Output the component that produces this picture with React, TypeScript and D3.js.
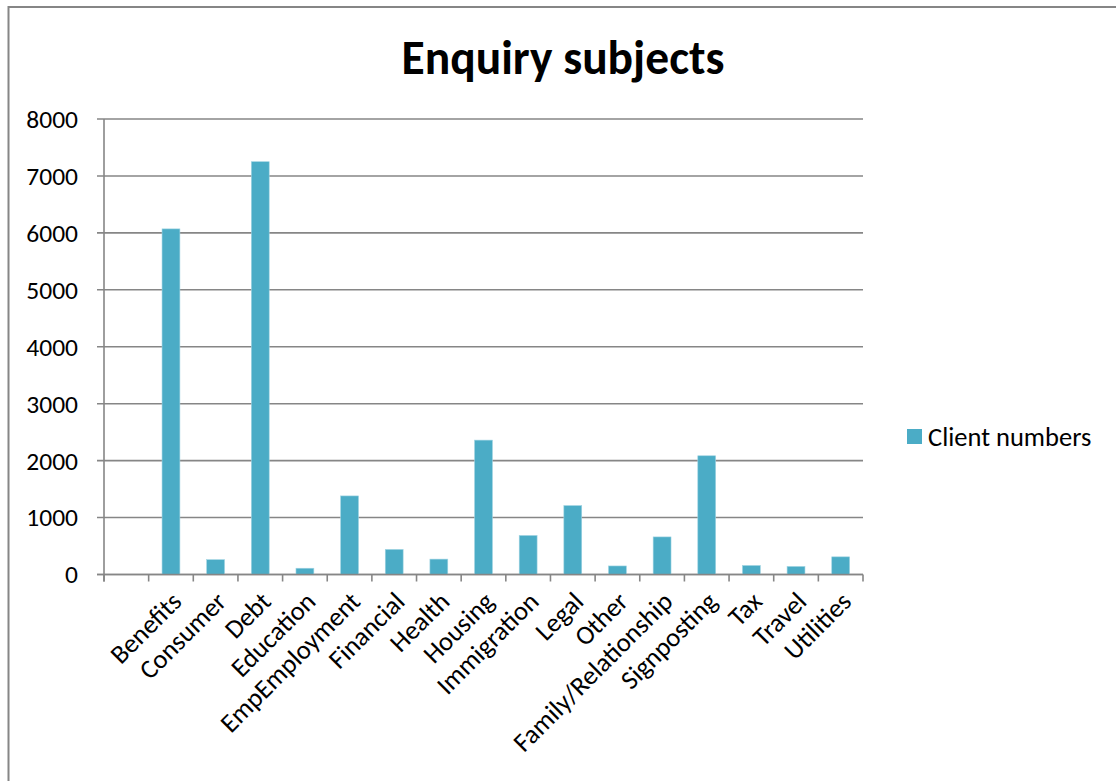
import React from "react";
import * as d3 from "d3";

// Enquiry subjects by client numbers (first category slot is left blank)
const categories = [
  "",
  "Benefits",
  "Consumer",
  "Debt",
  "Education",
  "EmpEmployment",
  "Financial",
  "Health",
  "Housing",
  "Immigration",
  "Legal",
  "Other",
  "Family/Relationship",
  "Signposting",
  "Tax",
  "Travel",
  "Utilities",
];
const clientNumbers: (number | null)[] = [
  null, 6070, 260, 7250, 110, 1380, 440, 270, 2360, 685, 1210, 150, 660, 2085, 158, 141, 310,
];
const yTicks = [0, 1000, 2000, 3000, 4000, 5000, 6000, 7000, 8000];
const seriesName = "Client numbers";
const title = "Enquiry subjects";

const W = 1116;
const H = 781;
const FONT = "Carlito, Calibri, Lato, 'Noto Sans', sans-serif";
const BAR = "#4BACC6";
const GRID = "#868686";
const TICK_SIZE = 25.5;
const LABEL_SIZE = 26.5;

export default function App() {
  const left = 104;
  const right = 863;
  const top = 119;
  const bottom = 574.5;

  const x = d3
    .scaleBand<number>()
    .domain(categories.map((_, i) => i))
    .range([left, right])
    .paddingInner(0.6)
    .paddingOuter(0.3);
  const y = d3.scaleLinear().domain([0, 8000]).range([bottom, top]);
  const step = (right - left) / categories.length;

  return (
    <svg
      width={W}
      height={H}
      style={{ position: "absolute", left: 0, top: 0, display: "block" }}
      fontFamily={FONT}
    >
      <rect x={0} y={0} width={W} height={H} fill="#fff" />
      {/* chart frame */}
      <rect x={8.5} y={7} width={W + 20} height={H + 20} fill="none" stroke={GRID} strokeWidth={2} />

      <text x={563} y={74} textAnchor="middle" fontSize={47.5} fontWeight={700} fill="#000">
        {title}
      </text>

      {/* gridlines and y ticks */}
      {yTicks.map((t) => (
        <g key={t}>
          <line x1={97} x2={right} y1={y(t)} y2={y(t)} stroke={GRID} strokeWidth={1.6} />
          <text x={78} y={y(t)} dy="0.35em" textAnchor="end" fontSize={TICK_SIZE} fill="#000">
            {t}
          </text>
        </g>
      ))}

      {/* bars */}
      {clientNumbers.map((v, i) =>
        v == null ? null : (
          <rect
            key={i}
            x={x(i)!}
            y={y(v)}
            width={x.bandwidth()}
            height={y(0) - y(v)}
            fill={BAR}
            stroke="#9ed3e2"
            strokeWidth={0.6}
          />
        )
      )}

      {/* axes */}
      <line x1={left} x2={left} y1={top} y2={bottom + 7} stroke={GRID} strokeWidth={1.6} />
      <line x1={97} x2={right} y1={bottom} y2={bottom} stroke={GRID} strokeWidth={1.6} />
      {d3.range(categories.length + 1).map((i) => (
        <line
          key={i}
          x1={left + i * step}
          x2={left + i * step}
          y1={bottom}
          y2={bottom + 7}
          stroke={GRID}
          strokeWidth={1.6}
        />
      ))}

      {/* category labels */}
      {categories.map((c, i) => {
        const cx = x(i)! + x.bandwidth() / 2;
        return (
          <text
            key={i}
            transform={`translate(${cx - 2},${589}) rotate(-45)`}
            textAnchor="end"
            dominantBaseline="hanging"
            fontSize={LABEL_SIZE}
            fill="#000"
          >
            {c}
          </text>
        );
      })}

      {/* legend */}
      <rect x={907} y={429} width={15} height={15} fill={BAR} />
      <text x={928} y={446} fontSize={LABEL_SIZE} fill="#000">
        {seriesName}
      </text>
    </svg>
  );
}
